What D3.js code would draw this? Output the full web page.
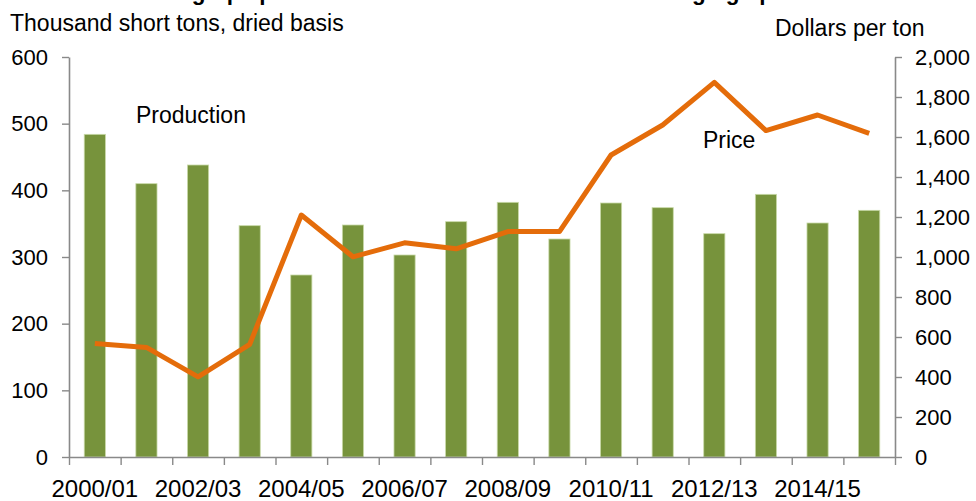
<!DOCTYPE html>
<html>
<head>
<meta charset="utf-8">
<script src="https://cdn.jsdelivr.net/npm/d3@7"></script>
<style>
  html, body { margin: 0; padding: 0; background: #ffffff; }
  svg { display: block; }
  text { font-family: "Liberation Sans", Arial, sans-serif; fill: #000; }
</style>
</head>
<body>
<svg id="chart" width="976" height="501"></svg>
<script>
// ---- data ----
const categories = ["2000/01","2001/02","2002/03","2003/04","2004/05","2005/06","2006/07","2007/08",
                    "2008/09","2009/10","2010/11","2011/12","2012/13","2013/14","2014/15","2015/16"];
const production = [484, 410, 438, 347, 273, 348, 303, 353, 382, 327, 381, 374, 335, 394, 351, 370];
const price = [568, 548, 401, 563, 1210, 1001, 1071, 1041, 1127, 1127, 1510, 1660, 1873, 1632, 1710, 1618];
const leftTicks = [0, 100, 200, 300, 400, 500, 600];
const rightTicks = [0, 200, 400, 600, 800, 1000, 1200, 1400, 1600, 1800, 2000];
const xLabels = ["2000/01","2002/03","2004/05","2006/07","2008/09","2010/11","2012/13","2014/15"];
const titleText = "Raisin grape production declines while returns are edging up";
const leftAxisTitle = "Thousand short tons, dried basis";
const rightAxisTitle = "Dollars per ton";
const barLabel = "Production";
const lineLabel = "Price";

// ---- layout ----
const svg = d3.select("#chart");
const x0 = 69, x1 = 895, yBottom = 457, yTop = 57;
const axisColor = "#898989";

const xBand = d3.scaleBand().domain(categories).range([x0, x1]).paddingInner(0.59).paddingOuter(0.295);
const xIdx = d3.scaleLinear().domain([0, categories.length]).range([x0, x1]);
const yL = d3.scaleLinear().domain([0, 600]).range([yBottom, yTop]);
const yR = d3.scaleLinear().domain([0, 2000]).range([yBottom, yTop]);

// clipped title (only descenders visible, as in the reference)
svg.append("text").attr("x", 118).attr("y", -0.5)
  .style("font-weight", "bold").style("font-size", "22.5px").text(titleText);

// axis titles
svg.append("text").attr("x", 10).attr("y", 31).style("font-size", "23px").text(leftAxisTitle);
svg.append("text").attr("x", 775).attr("y", 36).style("font-size", "23px").text(rightAxisTitle);

// bars
svg.append("g").selectAll("rect").data(production).join("rect")
  .attr("x", (d, i) => xBand(categories[i]))
  .attr("width", xBand.bandwidth())
  .attr("y", d => yL(d))
  .attr("height", d => yBottom - yL(d))
  .attr("fill", "#77933C")
  .attr("stroke", "#c9d9a8")
  .attr("stroke-width", 0.8);

function styleAxis(g) {
  g.selectAll("path.domain").attr("stroke", axisColor).attr("stroke-width", 1.6);
  g.selectAll(".tick line").attr("stroke", axisColor).attr("stroke-width", 1.4);
  g.selectAll("text").style("font-size", "22px").attr("fill", "#000")
    .style("font-family", '"Liberation Sans", Arial, sans-serif');
}

// left axis
svg.append("g").attr("transform", `translate(${x0},0)`)
  .call(d3.axisLeft(yL).tickValues(leftTicks).tickSize(7).tickSizeOuter(0).tickPadding(14))
  .call(styleAxis);

// right axis
svg.append("g").attr("transform", `translate(${x1},0)`)
  .call(d3.axisRight(yR).tickValues(rightTicks).tickSize(7).tickSizeOuter(0).tickPadding(13)
        .tickFormat(d3.format(",")))
  .call(styleAxis);

// bottom axis ticks (at category boundaries)
svg.append("g").attr("transform", `translate(0,${yBottom})`)
  .call(d3.axisBottom(xIdx).tickValues(d3.range(categories.length + 1)).tickSize(8).tickSizeOuter(0).tickFormat(""))
  .call(styleAxis);

// bottom labels
const xLab = svg.append("g").attr("transform", `translate(0,${yBottom})`)
  .call(d3.axisBottom(xBand).tickValues(xLabels).tickSize(0).tickPadding(23));
xLab.select("path.domain").remove();
xLab.selectAll("text").style("font-size", "24px").attr("fill", "#000")
  .style("font-family", '"Liberation Sans", Arial, sans-serif');

// price line
const line = d3.line()
  .x((d, i) => xBand(categories[i]) + xBand.bandwidth() / 2)
  .y(d => yR(d));
svg.append("path").datum(price)
  .attr("d", line)
  .attr("fill", "none")
  .attr("stroke", "#E46C0A")
  .attr("stroke-width", 5)
  .attr("stroke-linejoin", "round");

// series labels
svg.append("text").attr("x", 136).attr("y", 123).style("font-size", "23px").text(barLabel);
svg.append("text").attr("x", 703).attr("y", 148).style("font-size", "23px").text(lineLabel);
</script>
</body>
</html>
